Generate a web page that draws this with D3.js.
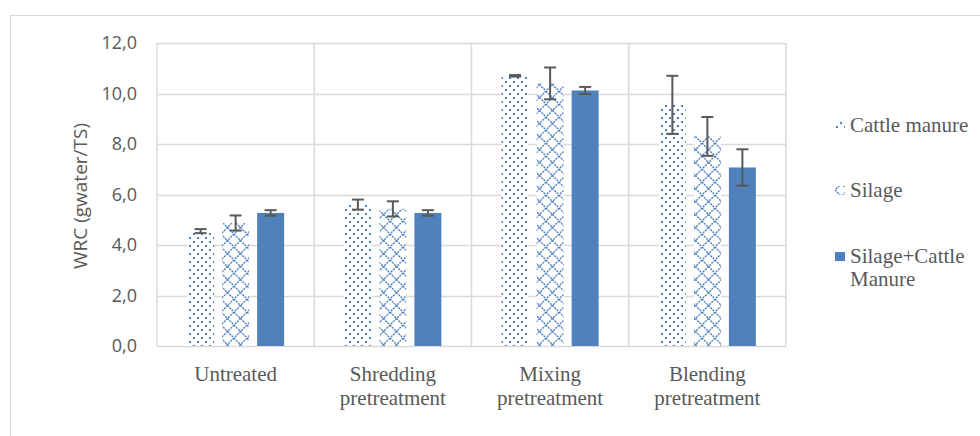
<!DOCTYPE html>
<html>
<head>
<meta charset="utf-8">
<script src="https://cdn.jsdelivr.net/npm/d3@7"></script>
<style>
  body { margin: 0; background: #fff; }
  svg { display: block; }
</style>
</head>
<body>
<div id="chart"></div>
<script>
const categories = [['Untreated'], ['Shredding', 'pretreatment'], ['Mixing', 'pretreatment'], ['Blending', 'pretreatment']];
const seriesNames = ['Cattle manure', 'Silage', 'Silage+Cattle Manure'];
const cattleManure = [4.55, 5.6, 10.7, 9.55];
const cattleManureErr = [0.08, 0.2, 0.03, 1.15];
const silage = [4.87, 5.43, 10.4, 8.3];
const silageErr = [0.3, 0.3, 0.63, 0.77];
const mixed = [5.27, 5.27, 10.12, 7.07];
const mixedErr = [0.11, 0.11, 0.14, 0.72];
const yTicks = [0, 2, 4, 6, 8, 10, 12];

const width = 980, height = 436;
const plot = { left: 157, right: 786, top: 43, bottom: 346 };
const blue = '#4f81bd';
const grid = '#d9d9d9';
const textColor = '#595959';
const sans = '"Open Sans", "Liberation Sans", sans-serif';
const serif = '"Liberation Serif", "Times New Roman", serif';

const svg = d3.select('#chart').append('svg')
  .attr('width', width)
  .attr('height', height);

// patterns
const defs = svg.append('defs');
const dots = defs.append('pattern')
  .attr('id', 'dots')
  .attr('patternUnits', 'userSpaceOnUse')
  .attr('width', 8).attr('height', 8);
dots.append('rect').attr('width', 8).attr('height', 8).attr('fill', '#fff');
dots.append('rect').attr('x', 1).attr('y', 1).attr('width', 2).attr('height', 2).attr('fill', blue);
dots.append('rect').attr('x', 5).attr('y', 5).attr('width', 2).attr('height', 2).attr('fill', blue);

const cross = defs.append('pattern')
  .attr('id', 'cross')
  .attr('patternUnits', 'userSpaceOnUse')
  .attr('width', 13).attr('height', 13);
cross.append('rect').attr('width', 13).attr('height', 13).attr('fill', '#fff');
cross.append('path')
  .attr('d', 'M0,0L13,13M13,0L0,13M-1,12L1,14M12,-1L14,1')
  .attr('stroke', blue)
  .attr('stroke-width', 1.4)
  .attr('stroke-dasharray', '2,1');

const fills = ['url(#dots)', 'url(#cross)', blue];

// chart area border
svg.append('rect')
  .attr('x', 10.5).attr('y', 15.5)
  .attr('width', 990).attr('height', 440)
  .attr('fill', 'none')
  .attr('stroke', grid);

const x0 = d3.scaleBand()
  .domain(d3.range(categories.length))
  .range([plot.left, plot.right]);
const x1 = d3.scaleBand()
  .domain(d3.range(seriesNames.length))
  .range([0, 97])
  .paddingInner(0.23);
const y = d3.scaleLinear().domain([0, 12]).range([plot.bottom, plot.top]);

// horizontal gridlines
svg.append('g')
  .selectAll('line')
  .data(yTicks)
  .enter()
  .append('line')
  .attr('x1', plot.left).attr('x2', plot.right)
  .attr('y1', d => Math.round(y(d)) + 0.5)
  .attr('y2', d => Math.round(y(d)) + 0.5)
  .attr('stroke', grid)
  .attr('stroke-width', 1.5);

// vertical category separators
svg.append('g')
  .selectAll('line')
  .data(d3.range(categories.length + 1))
  .enter()
  .append('line')
  .attr('x1', d => (d < categories.length ? x0(d) : plot.right))
  .attr('x2', d => (d < categories.length ? x0(d) : plot.right))
  .attr('y1', plot.top).attr('y2', plot.bottom)
  .attr('stroke', grid)
  .attr('stroke-width', 1.5);

// y axis labels
const yAxis = svg.append('g')
  .attr('transform', `translate(${plot.left - 8},0)`)
  .call(d3.axisLeft(y).tickValues(yTicks).tickSize(0).tickPadding(12)
    .tickFormat(d => d3.format('.1f')(d).replace('.', ',')));
yAxis.select('.domain').remove();
yAxis.selectAll('text')
  .style('font-family', sans)
  .style('font-size', '18px')
  .style('fill', textColor);

svg.append('text')
  .attr('transform', `translate(87,196) rotate(-90)`)
  .attr('text-anchor', 'middle')
  .style('font-family', sans)
  .style('font-size', '19px')
  .style('fill', textColor)
  .text('WRC (gwater/TS)');

// category labels
const catLabels = svg.append('g')
  .selectAll('text')
  .data(categories)
  .enter()
  .append('text')
  .attr('text-anchor', 'middle')
  .attr('x', (d, i) => x0(i) + x0.bandwidth() / 2)
  .attr('y', 381)
  .style('font-family', serif)
  .style('font-size', '21px')
  .style('fill', textColor);
catLabels.selectAll('tspan')
  .data(d => d)
  .enter()
  .append('tspan')
  .attr('x', function () { return d3.select(this.parentNode).attr('x'); })
  .attr('dy', (d, i) => (i === 0 ? 0 : 24))
  .text(d => d);

// bars
const series = [
  { values: cattleManure, err: cattleManureErr },
  { values: silage, err: silageErr },
  { values: mixed, err: mixedErr }
];

series.forEach((s, si) => {
  const g = svg.append('g');
  const bx = i => x0(i) + (x0.bandwidth() - 97) / 2 + x1(si);
  g.selectAll('rect')
    .data(s.values)
    .enter()
    .append('rect')
    .attr('x', (d, i) => bx(i))
    .attr('width', x1.bandwidth())
    .attr('y', d => y(d))
    .attr('height', d => plot.bottom - y(d))
    .attr('fill', fills[si]);

  // error bars
  const eb = g.selectAll('g.err')
    .data(s.values)
    .enter()
    .append('g')
    .attr('class', 'err')
    .attr('stroke', '#595959')
    .attr('stroke-width', 2);
  const cx = i => bx(i) + x1.bandwidth() / 2;
  eb.append('line')
    .attr('x1', (d, i) => cx(i)).attr('x2', (d, i) => cx(i))
    .attr('y1', (d, i) => y(d + s.err[i]))
    .attr('y2', (d, i) => y(d - s.err[i]));
  eb.append('line')
    .attr('x1', (d, i) => cx(i) - 6).attr('x2', (d, i) => cx(i) + 6)
    .attr('y1', (d, i) => y(d + s.err[i]))
    .attr('y2', (d, i) => y(d + s.err[i]));
  eb.append('line')
    .attr('x1', (d, i) => cx(i) - 6).attr('x2', (d, i) => cx(i) + 6)
    .attr('y1', (d, i) => y(d - s.err[i]))
    .attr('y2', (d, i) => y(d - s.err[i]));
});

// legend
const legendY = [125, 190, 256];
const legend = svg.append('g')
  .selectAll('g')
  .data(seriesNames)
  .enter()
  .append('g')
  .attr('transform', (d, i) => `translate(835,${legendY[i]})`);

legend.append('rect')
  .attr('x', 0).attr('y', -4)
  .attr('width', 10).attr('height', 9)
  .attr('fill', (d, i) => fills[i]);

legend.append('text')
  .attr('x', 15)
  .attr('y', 7)
  .style('font-family', serif)
  .style('font-size', '21px')
  .style('fill', textColor)
  .each(function (d) {
    const parts = d === 'Silage+Cattle Manure' ? ['Silage+Cattle', 'Manure'] : [d];
    d3.select(this).selectAll('tspan')
      .data(parts)
      .enter()
      .append('tspan')
      .attr('x', 15)
      .attr('dy', (p, i) => (i === 0 ? 0 : 23))
      .text(p => p);
  });
</script>
</body>
</html>
